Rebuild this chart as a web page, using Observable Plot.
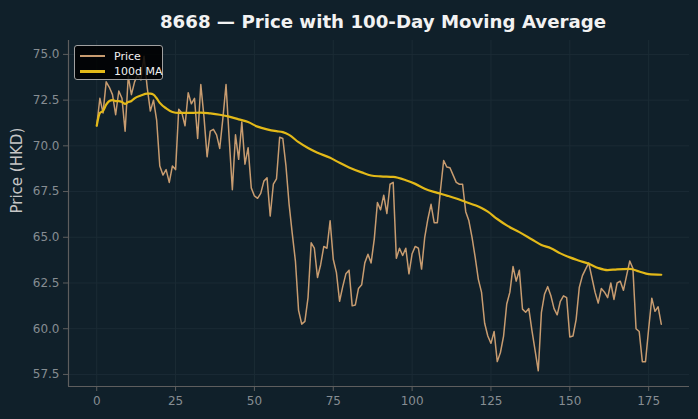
<!DOCTYPE html>
<html>
<head>
<meta charset="utf-8">
<script src="https://cdn.jsdelivr.net/npm/d3@7"></script>
<script src="https://cdn.jsdelivr.net/npm/@observablehq/plot@0.6"></script>
<style>
  html, body { margin: 0; padding: 0; background: #10202a; }
  #wrap { position: relative; width: 698px; height: 419px; background: #10202a; font-family: "DejaVu Sans", sans-serif; overflow: hidden; }
  #legend { position: absolute; left: 74px; top: 45px; width: 87px; height: 33px; background: rgba(0,0,0,0.85); border: 1px solid #a0a0a0; border-radius: 3px; box-sizing: content-box; }
  #legend .row { position: absolute; left: 0; height: 14px; display: flex; align-items: center; color: #f0f0f0; font-size: 11px; white-space: nowrap; }
  #legend .sw { width: 25px; margin-left: 5px; margin-right: 9px; }
</style>
</head>
<body>
<div id="wrap"></div>
<script>
// ---- data ----
const title = "8668 — Price with 100-Day Moving Average";
const yLabel = "Price (HKD)";
const seriesNames = ["Price", "100d MA"];
const xTicks = [0, 25, 50, 75, 100, 125, 150, 175];
const yTicks = [57.5, 60.0, 62.5, 65.0, 67.5, 70.0, 72.5, 75.0];

// daily price, day 0..179
const price = [
  71.1, 72.6, 71.8, 73.5, 73.2, 72.8, 71.7, 73.0, 72.6, 70.8,
  73.8, 72.8, 73.5, 73.9, 73.6, 74.9, 73.2, 71.9, 72.5, 71.4,
  68.9, 68.4, 68.7, 68.0, 68.9, 68.7, 72.0, 71.8, 71.1, 72.9,
  72.3, 72.6, 70.4, 73.35, 71.6, 69.4, 70.8, 70.9, 70.6, 69.86,
  71.5, 73.35, 70.4, 67.6, 70.6, 69.26, 71.3, 69.0, 69.9, 67.7,
  67.26, 67.13, 67.4, 68.07, 68.25, 66.16, 67.9, 68.2, 70.47, 70.4,
  68.9, 66.8, 65.2, 63.7, 61.0, 60.25, 60.4, 61.7, 64.7, 64.4,
  62.8, 63.5, 64.5, 64.4, 65.9, 63.8, 63.07, 61.5, 62.3, 63.0,
  63.2, 61.25, 61.3, 62.2, 62.4, 63.6, 64.07, 63.6, 64.9, 66.9,
  66.5, 67.3, 66.3, 67.9, 68.0, 63.85, 64.4, 64.0, 64.4, 63.0,
  64.1, 64.5, 64.4, 63.26, 65.0, 66.0, 66.8, 65.8, 65.8, 67.6,
  69.2, 68.84, 68.8, 68.4, 68.0, 67.9, 67.9, 66.4, 65.9, 65.0,
  63.9, 62.7, 62.0, 60.3, 59.6, 59.2, 59.85, 58.2, 58.7, 59.6,
  61.35, 62.0, 63.4, 62.6, 63.2, 61.07, 60.9, 61.1, 59.9, 58.8,
  57.7, 60.9, 61.9, 62.3, 61.8, 61.1, 60.76, 61.5, 61.8, 61.7,
  59.55, 59.6, 60.5, 62.25, 62.9, 63.26, 63.6, 62.8, 62.0, 61.4,
  62.2, 62.0, 61.7, 62.5, 61.6, 62.5, 62.6, 62.1, 62.9, 63.7,
  63.3, 60.0, 59.85, 58.2, 58.2, 60.0, 61.67, 60.95, 61.2, 60.25
];

// 100-day moving average, read at these days
const maDays = [0,1,2,3,4,5,6,7,8,9,10,11,12,14,16,17,18,19,20,22,24,26,28,30,33,36,39,42,45,48,51,54,57,59,61,64,67,70,74,77,80,84,87,90,94,98,101,104,108,111,114,117,120,122,124,127,130,134,138,141,144,147,150,153,156,159,162,165,169,172,175,179];
const maValues = [71.1,71.8,71.9,72.25,72.45,72.5,72.45,72.45,72.4,72.3,72.4,72.45,72.6,72.75,72.85,72.85,72.8,72.6,72.35,72.05,71.85,71.8,71.8,71.8,71.82,71.77,71.7,71.6,71.45,71.3,71.05,70.9,70.8,70.75,70.6,70.2,69.88,69.62,69.35,69.07,68.82,68.55,68.38,68.33,68.3,68.12,67.92,67.65,67.43,67.28,67.12,66.93,66.75,66.6,66.4,66.0,65.65,65.28,64.88,64.58,64.4,64.12,63.9,63.72,63.55,63.32,63.2,63.25,63.27,63.13,62.98,62.95];

const colors = { bg: "#10202a", price: "#c89c70", ma: "#e3b918", grid: "#1b2b35", spine: "#5e5e5e", tick: "#868d92", text: "#f2f2f2", label: "#c6c6c6" };

const priceRows = price.map((v, i) => ({ day: i, value: v }));
const maRows = maDays.map((d, i) => ({ day: d, value: maValues[i] }));

const xDomain = [-8.95, 187.95];
const yDomain = [56.84, 75.76];

const chart = Plot.plot({
  width: 698,
  height: 419,
  marginTop: 40,
  marginBottom: 33,
  marginLeft: 68,
  marginRight: 9,
  style: { background: colors.bg, color: colors.tick, fontFamily: "DejaVu Sans, sans-serif", fontSize: "12px" },
  x: { domain: xDomain, label: null },
  y: { domain: yDomain, label: null },
  marks: [
    Plot.gridX(xTicks, { stroke: colors.grid, strokeOpacity: 1 }),
    Plot.gridY(yTicks, { stroke: colors.grid, strokeOpacity: 1 }),
    Plot.axisX(xTicks, { tickSize: 5, tickPadding: 5, stroke: colors.spine, fill: colors.tick, fontSize: 12, label: null, tickFormat: d => String(d) }),
    Plot.axisY(yTicks, { tickSize: 5, tickPadding: 4, stroke: colors.spine, fill: colors.tick, fontSize: 12, label: null, tickFormat: d => d.toFixed(1) }),
    Plot.ruleX([xDomain[0]], { stroke: colors.spine, strokeWidth: 1.2 }),
    Plot.ruleY([yDomain[0]], { stroke: colors.spine, strokeWidth: 1.2 }),
    Plot.line(priceRows, { x: "day", y: "value", stroke: colors.price, strokeWidth: 1.5 }),
    Plot.line(maRows, { x: "day", y: "value", stroke: colors.ma, strokeWidth: 2.2, curve: "monotone-x" }),
    Plot.text([title], { frameAnchor: "top", dy: -25, dx: 4, fill: colors.text, fontSize: 18.2, fontWeight: "bold" }),
    Plot.text([yLabel], { frameAnchor: "left", dx: -51, rotate: -90, fill: colors.label, fontSize: 15 })
  ]
});

const wrap = document.getElementById("wrap");
wrap.appendChild(chart);

// legend
const legend = document.createElement("div");
legend.id = "legend";
const entries = [
  { name: seriesNames[0], color: colors.price, w: 2, top: 3 },
  { name: seriesNames[1], color: colors.ma, w: 3, top: 18 }
];
for (const e of entries) {
  const row = document.createElement("div");
  row.className = "row";
  row.style.top = e.top + "px";
  const sw = document.createElement("div");
  sw.className = "sw";
  sw.style.height = e.w + "px";
  sw.style.background = e.color;
  row.appendChild(sw);
  const t = document.createElement("span");
  t.textContent = e.name;
  row.appendChild(t);
  legend.appendChild(row);
}
wrap.appendChild(legend);
</script>
</body>
</html>
